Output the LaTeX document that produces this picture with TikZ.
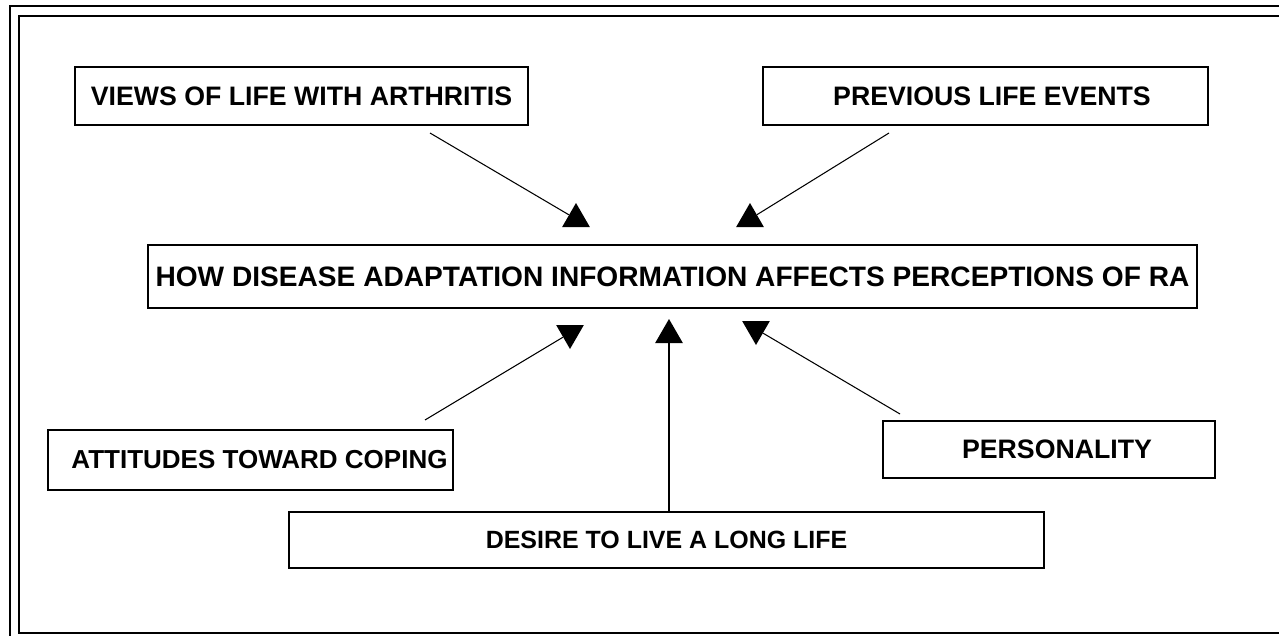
\documentclass[tikz,border=0pt]{standalone}
\usepackage{fontspec}
\setmainfont{Liberation Sans}
\usetikzlibrary{shapes.geometric}
\begin{document}
\begin{tikzpicture}[x=0.02cm,y=-0.02cm,
  box/.style={draw, line width=1.1pt, inner sep=0pt, align=center,
    font=\bfseries\fontsize{15.2}{18}\selectfont},
  tri/.style={regular polygon, regular polygon sides=3, fill=black, draw=none,
    inner sep=0pt, minimum size=0.64cm},
  tridown/.style={tri, shape border rotate=180},
  conn/.style={line width=0.6pt},
  frame/.style={line width=1.1pt}]
\useasboundingbox (0,0) rectangle (1279,636);
% frame
\draw[frame] (10,636) -- (10,6) -- (1279,6);
\draw[frame] (1279,16) -- (19,16) -- (19,633) -- (1279,633);
% boxes
\node[box, minimum width=9.06cm, minimum height=1.16cm] (A) at (301.5,96) {VIEWS OF LIFE WITH ARTHRITIS};
\node[box, minimum width=8.9cm, minimum height=1.16cm] (B) at (985.5,96) {\hspace*{0.26cm}PREVIOUS LIFE EVENTS};
\node[box, minimum width=20.98cm, minimum height=1.26cm, font=\bfseries\fontsize{16}{18}\selectfont] (M) at (672.5,276.5) {HOW DISEASE ADAPTATION INFORMATION AFFECTS PERCEPTIONS OF RA};
\node[box, minimum width=8.1cm, minimum height=1.2cm, font=\bfseries\fontsize{14.8}{18}\selectfont] (C) at (250.5,460) {\hspace*{0.36cm}ATTITUDES TOWARD COPING};
\node[box, minimum width=6.64cm, minimum height=1.14cm] (D) at (1049,449.5) {\hspace*{0.32cm}PERSONALITY};
\node[box, minimum width=15.1cm, minimum height=1.12cm, font=\bfseries\fontsize{14.2}{18}\selectfont] (E) at (666.5,540) {DESIRE TO LIVE A LONG LIFE};
% triangles
\node[tri] (TA) at (576,219) {};
\node[tri] (TB) at (750,219) {};
\node[tridown] (TC) at (570,333) {};
\node[tridown] (TD) at (756,329) {};
\node[tri] (TE) at (669,335) {};
% connector start points
\coordinate (sA) at (430,133);
\coordinate (sB) at (889,133);
\coordinate (sC) at (425,420);
\coordinate (sD) at (900,414);
\coordinate (sE) at (669,512);
\draw[conn] (sA) -- (TA);
\draw[conn] (sB) -- (TB);
\draw[conn] (sC) -- (TC);
\draw[conn] (sD) -- (TD);
\draw[line width=1.5pt] (sE) -- (TE);
\end{tikzpicture}
\end{document}
